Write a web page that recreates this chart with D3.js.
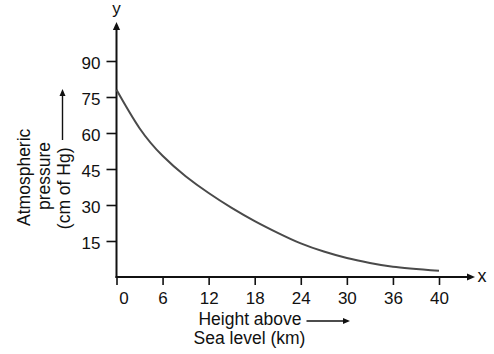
<!DOCTYPE html>
<html>
<head>
<meta charset="utf-8">
<script src="https://cdn.jsdelivr.net/npm/d3@7"></script>
<style>
  html, body { margin: 0; padding: 0; background: #fff; }
  svg text { font-family: "Liberation Sans", Arial, Helvetica, sans-serif; fill: #111; }
</style>
</head>
<body>
<svg id="chart" width="494" height="354"></svg>
<script>
// ---- data ----
const heightKm = [0, 3, 6, 9, 12, 15, 18, 21, 24, 27, 30, 33, 36, 40];
const pressureCmHg = [78, 62, 50.5, 42, 35, 28.8, 23.3, 18.4, 14, 10.6, 7.9, 5.8, 4.3, 2.6];
const xTicks = [0, 6, 12, 18, 24, 30, 36, 40];
const yTicks = [15, 30, 45, 60, 75, 90];
const yTitleLines = ["Atmospheric", "pressure", "(cm of Hg)"];
const xTitleLines = ["Height above", "Sea level (km)"];

// ---- layout ----
const svg = d3.select("#chart");
const originX = 116.5, originY = 277;
const lastTickX = 439;
const step = (lastTickX - originX) / (xTicks.length - 1);

// ticks are drawn equally spaced (as in the original figure)
const x = d3.scaleLinear()
  .domain(xTicks)
  .range(xTicks.map((d, i) => originX + i * step));
const y = d3.scaleLinear().domain([0, 100]).range([originY, originY - 240]);

const ink = "#111";

// ---- axes ticks ----
const gx = svg.append("g").attr("transform", `translate(0,${originY})`)
  .call(d3.axisBottom(x).tickValues(xTicks).tickSize(8).tickPadding(6.5).tickFormat(d3.format("d")));
gx.select(".domain").remove();
gx.selectAll(".tick line").attr("stroke", ink).attr("stroke-width", 1.6);
gx.selectAll(".tick text").style("font-size", "17px").attr("fill", ink);
gx.selectAll(".tick text").filter(d => d === 0).attr("dx", 7);

const gy = svg.append("g").attr("transform", `translate(${originX},0)`)
  .call(d3.axisLeft(y).tickValues(yTicks).tickSize(10).tickPadding(6));
gy.select(".domain").remove();
gy.selectAll(".tick line").attr("stroke", ink).attr("stroke-width", 1.6);
gy.selectAll(".tick text").style("font-size", "17px").attr("fill", ink).attr("dy", "0.45em");

// ---- axis lines with arrowheads ----
function arrow(x1, y1, x2, y2, w, len, half) {
  const ang = Math.atan2(y2 - y1, x2 - x1);
  const bx = x2 - len * Math.cos(ang), by = y2 - len * Math.sin(ang);
  svg.append("line").attr("x1", x1).attr("y1", y1).attr("x2", bx + Math.cos(ang)).attr("y2", by + Math.sin(ang))
    .attr("stroke", ink).attr("stroke-width", w);
  const px = -Math.sin(ang) * half, py = Math.cos(ang) * half;
  svg.append("path")
    .attr("d", `M${x2},${y2}L${bx + px},${by + py}L${bx - px},${by - py}Z`)
    .attr("fill", ink);
}
arrow(originX, originY + 1, originX, 22, 2, 8, 3.6);     // y axis
arrow(originX - 1, originY, 475, originY, 2, 8, 3.6);    // x axis

svg.append("text").attr("x", originX).attr("y", 14).attr("text-anchor", "middle")
  .style("font-size", "17px").text("y");
svg.append("text").attr("x", 482).attr("y", 281.5).attr("text-anchor", "middle")
  .style("font-size", "18px").text("x");

// ---- curve ----
const pts = heightKm.map((h, i) => [x(h), y(pressureCmHg[i])]);
svg.append("path")
  .attr("d", d3.line().curve(d3.curveNatural)(pts))
  .attr("fill", "none").attr("stroke", "#4a4a4a").attr("stroke-width", 2);

// ---- x title ----
const xt = svg.append("g");
xt.append("text").attr("x", 250).attr("y", 325).attr("text-anchor", "middle")
  .style("font-size", "17.5px").text(xTitleLines[0]);
xt.append("text").attr("x", 249.5).attr("y", 344).attr("text-anchor", "middle")
  .style("font-size", "17.5px").text(xTitleLines[1]);
arrow(306.5, 321, 350, 321, 1.4, 7, 3);

// ---- y title ----
const ytCenters = [177.3, 176, 188.3];
const ytBase = [29.5, 49.8, 69.5];
yTitleLines.forEach((t, i) => {
  svg.append("text")
    .attr("transform", `translate(${ytBase[i]},${ytCenters[i]}) rotate(-90)`)
    .attr("text-anchor", "middle")
    .style("font-size", "17.5px").text(t);
});
arrow(62.5, 140, 62.5, 89, 1.4, 7, 3);
</script>
</body>
</html>
